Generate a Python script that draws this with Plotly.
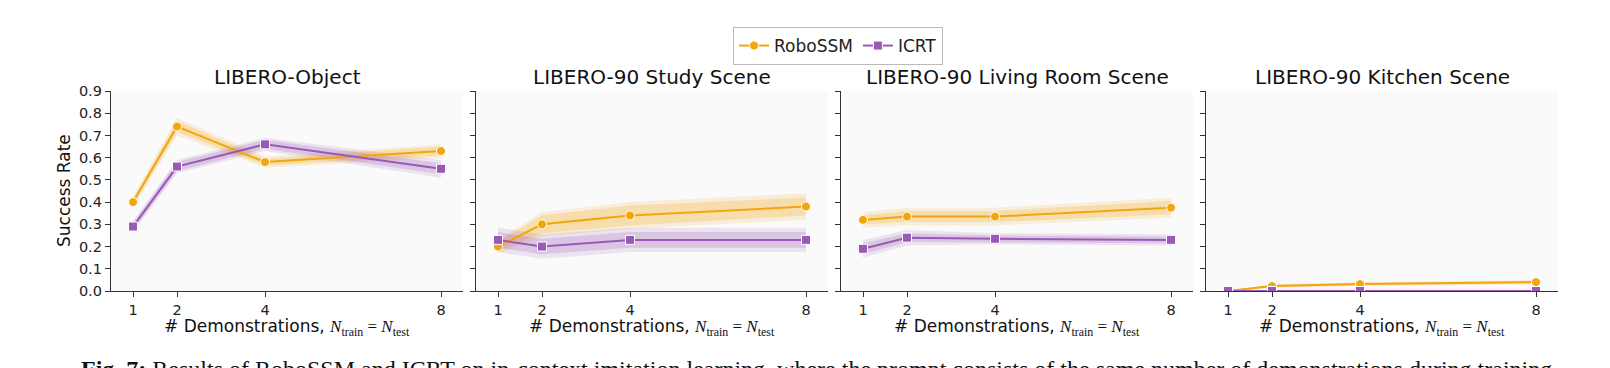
import plotly.graph_objects as go

W, H = 1610, 368

demos = [1, 2, 4, 8]
panel_titles = ["LIBERO-Object", "LIBERO-90 Study Scene",
                "LIBERO-90 Living Room Scene", "LIBERO-90 Kitchen Scene"]
series_names = ["RoboSSM", "ICRT"]

# mean success rates per panel
robossm_mean = [
    [0.40, 0.74, 0.58, 0.63],
    [0.20, 0.30, 0.34, 0.38],
    [0.32, 0.335, 0.335, 0.375],
    [0.00, 0.022, 0.031, 0.040],
]
icrt_mean = [
    [0.29, 0.56, 0.66, 0.55],
    [0.23, 0.20, 0.23, 0.23],
    [0.19, 0.24, 0.235, 0.23],
    [0.00, 0.00, 0.00, 0.00],
]
# half-widths of the inner (darker) and outer (lighter) shaded bands
robossm_inner = [
    [0.015, 0.025, 0.015, 0.02],
    [0.02, 0.04, 0.045, 0.04],
    [0.02, 0.025, 0.025, 0.03],
    [0.0, 0.005, 0.005, 0.006],
]
robossm_outer = [
    [0.025, 0.04, 0.025, 0.03],
    [0.03, 0.055, 0.06, 0.06],
    [0.035, 0.04, 0.04, 0.045],
    [0.0, 0.008, 0.008, 0.01],
]
icrt_inner = [
    [0.015, 0.02, 0.02, 0.025],
    [0.035, 0.035, 0.035, 0.035],
    [0.025, 0.02, 0.015, 0.015],
    [0.0, 0.0, 0.0, 0.0],
]
icrt_outer = [
    [0.025, 0.03, 0.03, 0.04],
    [0.055, 0.055, 0.055, 0.055],
    [0.04, 0.035, 0.025, 0.025],
    [0.0, 0.0, 0.0, 0.0],
]

y_ticks = [0.0, 0.1, 0.2, 0.3, 0.4, 0.5, 0.6, 0.7, 0.8, 0.9]
caption = ("<b>Fig. 7:</b> Results of RoboSSM and ICRT on in-context imitation learning, "
           "where the prompt consists of the same number of demonstrations during training")

ORANGE = "#F2A60C"
PURPLE = "#9B59B6"
FONT = "DejaVu Sans"
AXC = "#333333"


def rgba(hexc, a):
    hexc = hexc.lstrip("#")
    r, g, b = int(hexc[0:2], 16), int(hexc[2:4], 16), int(hexc[4:6], 16)
    return f"rgba({r},{g},{b},{a})"


# panel geometry in pixels
px_left = [111, 476, 841, 1206]
px_width = 352
py_top, py_bottom = 91, 291

fig = go.Figure()

series = [
    ("RoboSSM", robossm_mean, robossm_inner, robossm_outer, ORANGE, "circle"),
    ("ICRT", icrt_mean, icrt_inner, icrt_outer, PURPLE, "square"),
]

for p in range(4):
    xa = "x" if p == 0 else f"x{p+1}"
    ya = "y" if p == 0 else f"y{p+1}"
    for name, means, inner, outer, col, sym in series:
        m = means[p]
        for hw, alpha in ((outer[p], 0.14), (inner[p], 0.22)):
            lo = [a - b for a, b in zip(m, hw)]
            hi = [a + b for a, b in zip(m, hw)]
            fig.add_trace(go.Scatter(
                x=demos + demos[::-1], y=hi + lo[::-1], xaxis=xa, yaxis=ya,
                fill="toself", fillcolor=rgba(col, alpha), line=dict(width=0),
                mode="lines", showlegend=False, hoverinfo="skip"))
    for name, means, inner, outer, col, sym in series:
        fig.add_trace(go.Scatter(
            x=demos, y=means[p], xaxis=xa, yaxis=ya, name=name,
            mode="lines+markers", line=dict(color=col, width=2),
            marker=dict(symbol=sym, size=9, color=col,
                        line=dict(color="white", width=1)),
            showlegend=(p == 0)))

layout = dict(
    width=W, height=H, margin=dict(l=0, r=0, t=0, b=0, autoexpand=False),
    paper_bgcolor="white", plot_bgcolor="#FAFAFA",
    font=dict(family=FONT, size=14, color="#222222"),
    showlegend=True,
    legend=dict(orientation="h", x=838 / W, xanchor="center",
                y=1 - 27 / H, yanchor="top",
                bordercolor="#BBBBBB", borderwidth=1, bgcolor="white",
                font=dict(size=17, family=FONT), itemwidth=30,
                tracegroupgap=0),
)
annotations = []
for p in range(4):
    suffix = "" if p == 0 else str(p + 1)
    x0 = px_left[p] / W
    x1 = (px_left[p] + px_width) / W
    layout["xaxis" + suffix] = dict(
        domain=[x0, x1], range=[0.5, 8.5], tickvals=demos,
        ticks="outside", ticklen=5, tickwidth=1.2, tickcolor=AXC,
        showline=True, linecolor=AXC, linewidth=1.3, mirror=False,
        showgrid=False, zeroline=False, anchor="y" + suffix,
        tickfont=dict(size=14.5, color="#222222"))
    layout["yaxis" + suffix] = dict(
        domain=[1 - py_bottom / H, 1 - py_top / H], range=[0, 0.9],
        tickvals=y_ticks, ticktext=[f"{v:.1f}" for v in y_ticks],
        showticklabels=(p == 0),
        ticks="outside", ticklen=5, tickwidth=1.2, tickcolor=AXC,
        showline=True, linecolor=AXC, linewidth=1.3, mirror=False,
        showgrid=False, zeroline=False, anchor="x" + suffix,
        tickfont=dict(size=14.5, color="#222222"))
    cx = (px_left[p] + px_width / 2) / W
    annotations.append(dict(
        text=panel_titles[p], x=cx, y=1 - 77 / H, xref="paper", yref="paper",
        xanchor="center", yanchor="middle", showarrow=False,
        font=dict(size=20, family=FONT, color="#111111")))
    annotations.append(dict(
        text=('# Demonstrations, <span style="font-family:\'Liberation Serif\'">'
              '<i>N</i><sub>train</sub> = <i>N</i><sub>test</sub></span>'),
        x=cx, y=1 - 327 / H, xref="paper", yref="paper",
        xanchor="center", yanchor="middle", showarrow=False,
        font=dict(size=17, family=FONT, color="#111111")))

annotations.append(dict(
    text="Success Rate", x=64 / W, y=1 - 191 / H, xref="paper", yref="paper",
    xanchor="center", yanchor="middle", textangle=-90, showarrow=False,
    font=dict(size=17, family=FONT, color="#111111")))
annotations.append(dict(
    text=caption, x=79 / W, y=1 - 354 / H, xref="paper", yref="paper",
    xanchor="left", yanchor="top", showarrow=False,
    font=dict(size=24, family="Liberation Serif", color="#111111")))
layout["annotations"] = annotations

fig.update_layout(**layout)
fig.write_html("out.html", config={"displayModeBar": False},
               post_script="document.body.style.margin='0';document.body.style.padding='0';")
